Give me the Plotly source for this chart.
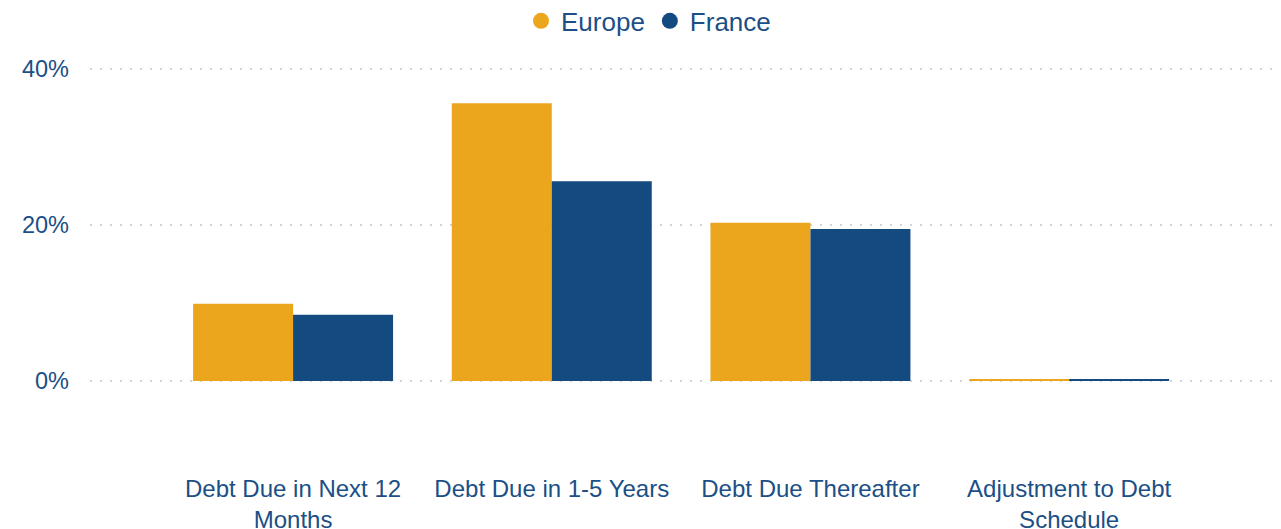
import plotly.graph_objects as go

categories = ["Debt Due in Next 12<br>Months", "Debt Due in 1-5 Years",
              "Debt Due Thereafter", "Adjustment to Debt<br>Schedule"]
europe = [9.9, 35.6, 20.3, 0.2]
france = [8.5, 25.6, 19.5, 0.2]
series_names = ["Europe", "France"]
y_tickvals = [0, 20, 40]
y_ticktext = ["0%", "20%", "40%"]

col_eu = "#EBA61E"
col_fr = "#134A7F"
txt = "#1B4F86"

fig = go.Figure()
for name, vals, col in [(series_names[0], europe, col_eu), (series_names[1], france, col_fr)]:
    fig.add_trace(go.Bar(x=list(range(len(categories))), y=vals, name=name,
                         marker=dict(color=col, line=dict(width=0)), showlegend=False))
# legend entries with circle symbols
for name, col in [(series_names[0], col_eu), (series_names[1], col_fr)]:
    fig.add_trace(go.Scatter(x=[None], y=[None], mode="markers", name=name,
                             marker=dict(symbol="circle", size=20, color=col)))

fig.update_layout(
    width=1281, height=529,
    margin=dict(l=82, r=16, t=37, b=77, autoexpand=False),
    paper_bgcolor="white", plot_bgcolor="white",
    barmode="group", bargap=0.227, bargroupgap=0,
    font=dict(family="Liberation Sans, Arial, sans-serif", color=txt, size=24),
    legend=dict(orientation="h", x=0.5, xanchor="center", xref="container",
                y=1.058, yanchor="middle", yref="paper",
                font=dict(size=26, color=txt),
                itemwidth=30, itemsizing="trace", tracegroupgap=0),
    xaxis=dict(range=[-0.785, 3.788], tickmode="array",
               tickvals=list(range(len(categories))), ticktext=categories,
               showgrid=False, zeroline=False, showline=False, automargin=False,
               tickfont=dict(size=24, color=txt), ticklabelstandoff=12),
    yaxis=dict(range=[-10.13, 43.08], tickmode="array", tickvals=y_tickvals,
               ticktext=y_ticktext, showgrid=True, gridcolor="#d4d4d4", gridwidth=2,
               griddash="2px,8px", zeroline=False, showline=False, automargin=False,
               tickfont=dict(size=23.5, color=txt), ticklabelstandoff=20),
)
fig.write_html("out.html")
